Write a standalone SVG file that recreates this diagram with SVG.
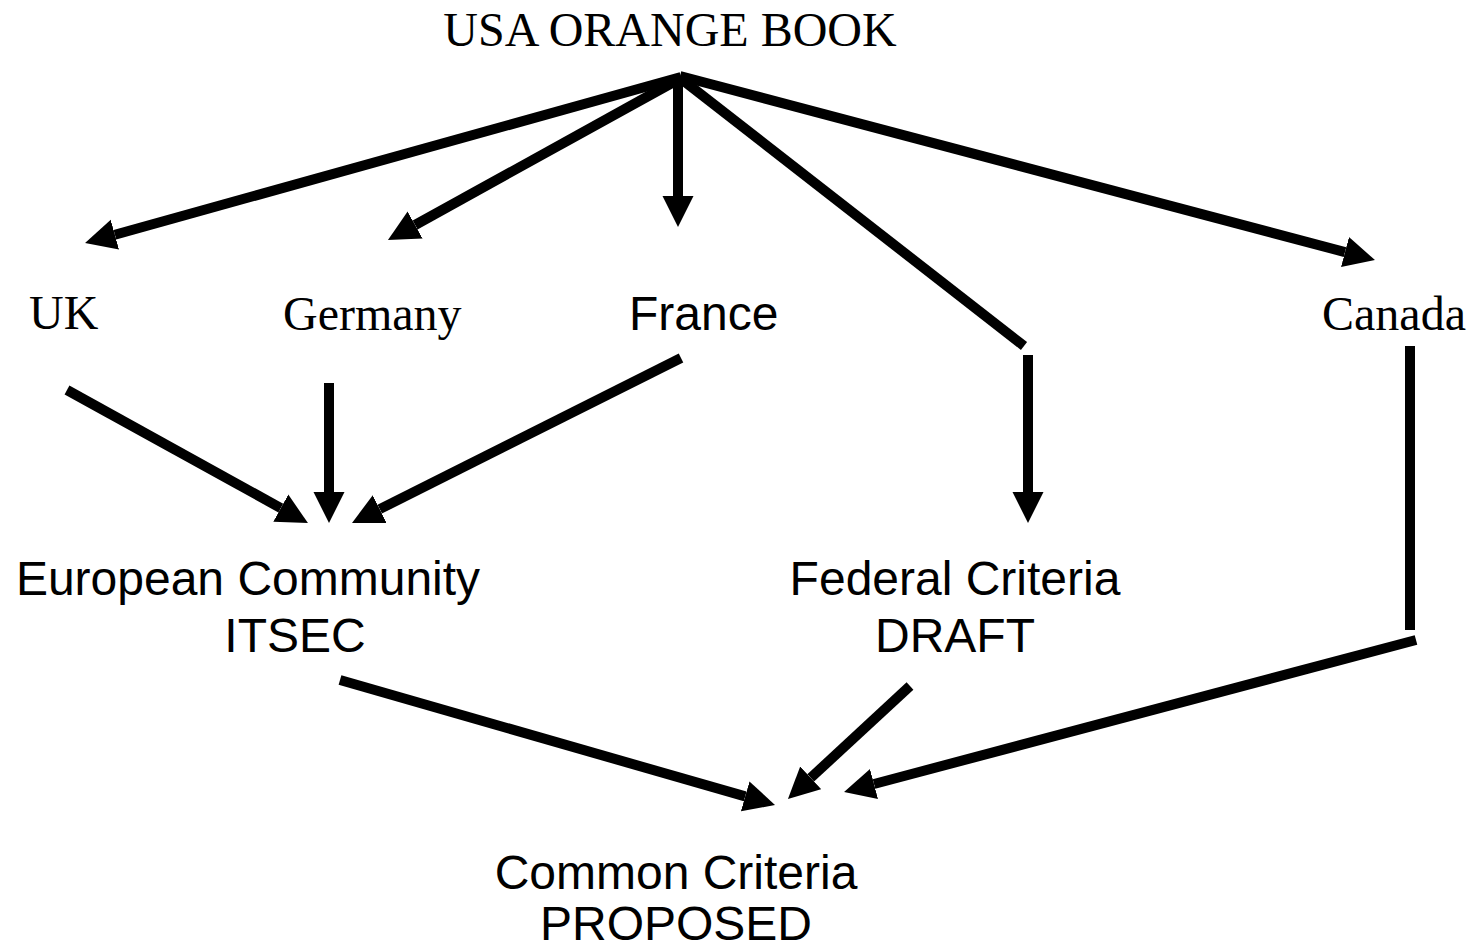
<svg xmlns="http://www.w3.org/2000/svg" width="1472" height="948" viewBox="0 0 1472 948">
<style>
.serif{font-family:"Liberation Serif","Times New Roman",serif;font-size:48px;fill:#000}
.sans{font-family:"Liberation Sans",Arial,sans-serif;font-size:48px;fill:#000}
.c{stroke:#000;stroke-width:10;fill:none;stroke-linecap:butt}
</style>
<defs>
<marker id="ah" markerUnits="userSpaceOnUse" markerWidth="32" markerHeight="32" viewBox="0 -16 32 32" refX="0" refY="0" orient="auto">
<path d="M0,-15.5 L31,0 L0,15.5 z" fill="#000"/>
</marker>
</defs>
<rect width="1472" height="948" fill="#fff"/>
<g id="connectors">
<line class="c" x1="681" y1="77" x2="114.9" y2="234.7" marker-end="url(#ah)"/>
<line class="c" x1="681" y1="78" x2="415.1" y2="225.0" marker-end="url(#ah)"/>
<line class="c" x1="678" y1="76" x2="678" y2="196" marker-end="url(#ah)"/>
<line class="c" x1="680" y1="78" x2="1024" y2="346"/>
<line class="c" x1="1028" y1="355" x2="1028" y2="492" marker-end="url(#ah)"/>
<line class="c" x1="680" y1="76" x2="1345.0" y2="252.1" marker-end="url(#ah)"/>
<line class="c" x1="67" y1="390" x2="280.8" y2="508.1" marker-end="url(#ah)"/>
<line class="c" x1="329" y1="383" x2="329" y2="492" marker-end="url(#ah)"/>
<line class="c" x1="681" y1="358" x2="379.7" y2="509.1" marker-end="url(#ah)"/>
<line class="c" x1="340" y1="680" x2="745.2" y2="796.4" marker-end="url(#ah)"/>
<line class="c" x1="910" y1="686" x2="810.7" y2="777.9" marker-end="url(#ah)"/>
<line class="c" x1="1410" y1="346" x2="1410" y2="630"/>
<line class="c" x1="1416" y1="640" x2="874.0" y2="784.0" marker-end="url(#ah)"/>
</g>
<g id="usa"><text class="serif" x="670" y="46" text-anchor="middle">USA ORANGE BOOK</text></g>
<g id="uk"><text class="serif" x="29" y="329">UK</text></g>
<g id="germany"><text class="serif" x="283" y="330">Germany</text></g>
<g id="france"><text class="sans" x="629" y="330">France</text></g>
<g id="canada"><text class="serif" x="1322" y="330">Canada</text></g>
<g id="itsec"><text class="sans" text-anchor="middle"><tspan x="248" y="595">European Community</tspan><tspan x="295" y="652">ITSEC</tspan></text></g>
<g id="federal"><text class="sans" text-anchor="middle"><tspan x="955" y="595">Federal Criteria</tspan><tspan x="955" y="652">DRAFT</tspan></text></g>
<g id="common"><text class="sans" text-anchor="middle"><tspan x="676" y="889">Common Criteria</tspan><tspan x="676" y="940">PROPOSED</tspan></text></g>
</svg>
